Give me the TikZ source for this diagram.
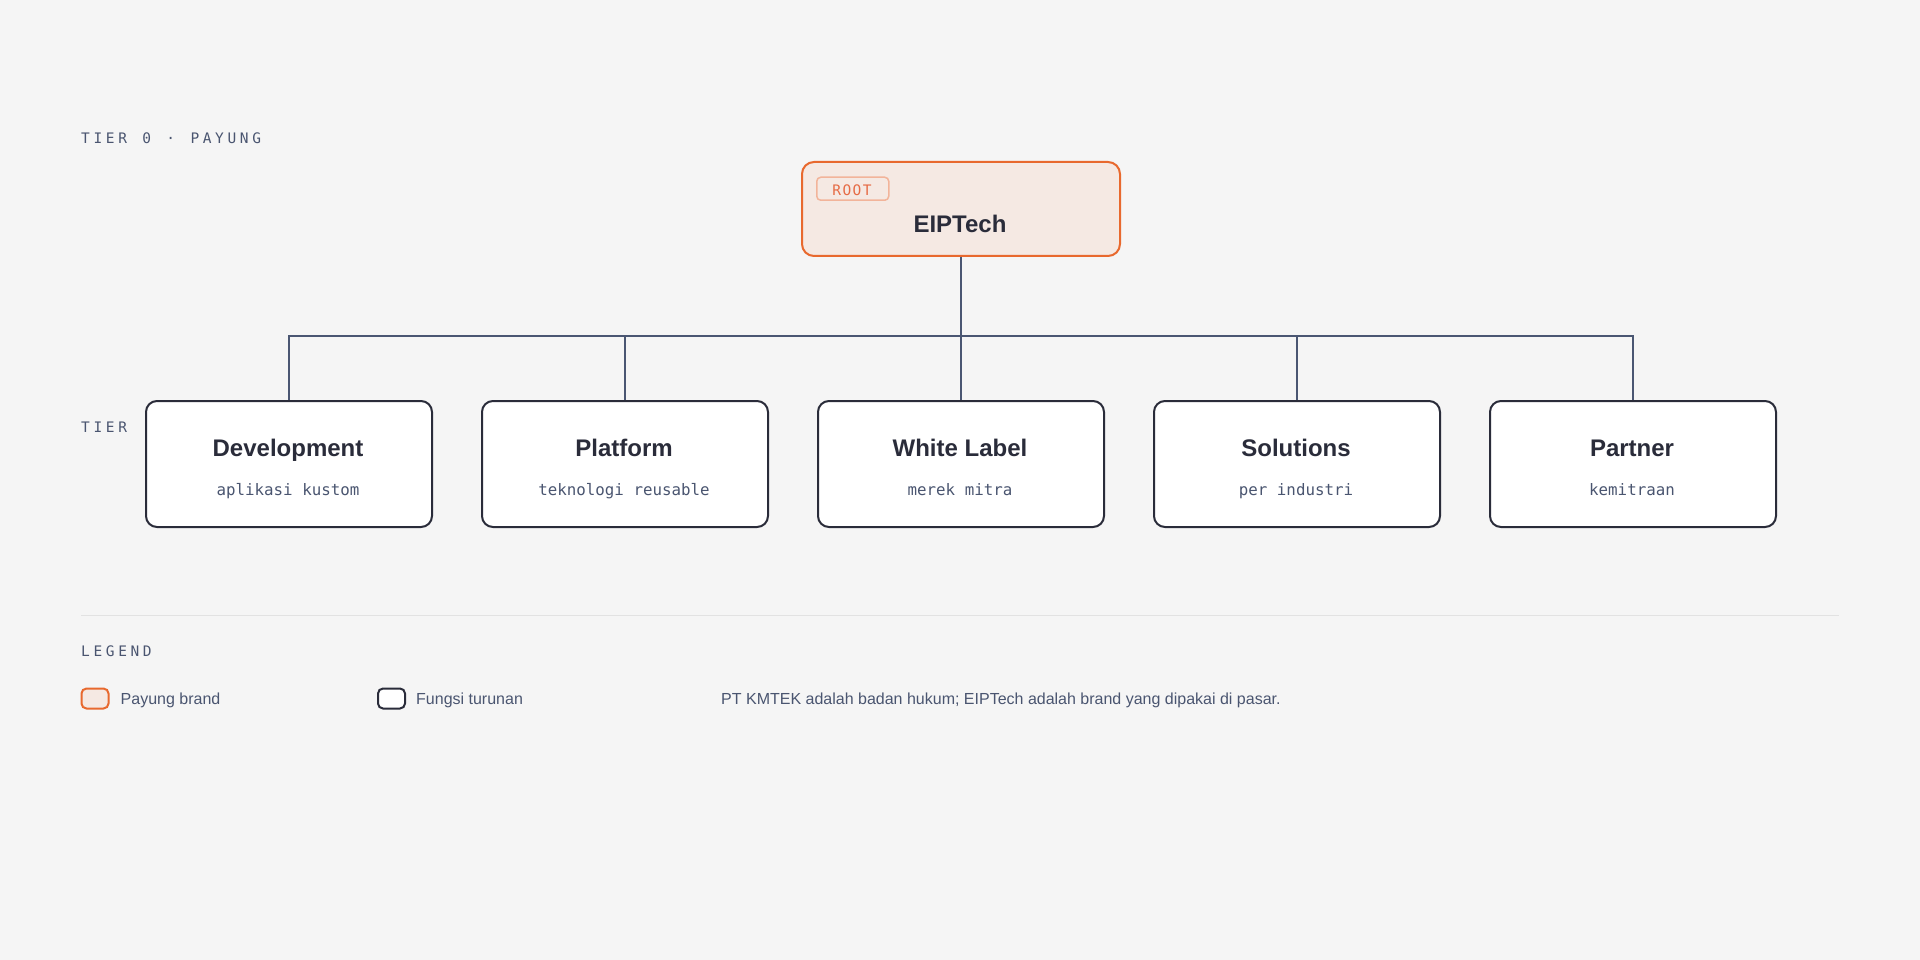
\documentclass[tikz,border=0pt]{standalone}
\usepackage{fontspec}
\setmainfont{Liberation Sans}
\newfontfamily\monof{DejaVu Sans Mono}
\newfontfamily\monosp{DejaVu Sans Mono}[LetterSpace=25]
\newfontfamily\monotag{DejaVu Sans Mono}[LetterSpace=10]
\definecolor{bgc}{HTML}{F5F5F5}
\definecolor{orng}{HTML}{E8692E}
\definecolor{orfill}{HTML}{F5E9E3}
\definecolor{tagb}{HTML}{F2B49A}
\definecolor{tagt}{HTML}{E66B45}
\definecolor{darkc}{HTML}{2A2C3A}
\definecolor{linec}{HTML}{4A5672}
\definecolor{subc}{HTML}{4A5570}
\definecolor{sepc}{HTML}{E2E2E2}
\begin{document}
\begin{tikzpicture}[x=1pt,y=-1pt,
  tierlbl/.style={anchor=base west,inner sep=0,text=subc,font=\monosp\fontsize{14.5}{16}\selectfont},
  childbox/.style={draw=darkc,line width=2pt,fill=white,rounded corners=11pt,minimum width=286pt,minimum height=126pt,inner sep=0,anchor=north west},
  ttl/.style={anchor=base,inner sep=0,text=darkc,font=\fontsize{24}{28}\selectfont\bfseries},
  sub/.style={anchor=base,inner sep=0,text=subc,font=\monof\fontsize{15.8}{18}\selectfont},
  conn/.style={draw=linec,line width=1.6pt},
  legtxt/.style={anchor=base west,inner sep=0,text=subc,font=\fontsize{16}{19}\selectfont}]
\fill[bgc] (0,0) rectangle (1920,960);
\useasboundingbox (0,0) rectangle (1920,960);

% tier labels
\node[tierlbl] (t0) at (81,143.5) {TIER\hspace{3pt} 0\hspace{3pt} ·\hspace{3pt} PAYUNG};
\node[tierlbl] (t1) at (81,432) {TIER};

% root
\node[draw=orng,line width=2pt,fill=orfill,rounded corners=12pt,minimum width=318pt,minimum height=94pt,inner sep=0,anchor=north west] (root) at (801,161) {};
\node[draw=tagb,line width=1.5pt,rounded corners=4pt,minimum width=72pt,minimum height=23pt,inner sep=0,anchor=north west] (tag) at (816,176.5) {};
\node[anchor=base,inner sep=0,text=tagt,font=\monotag\fontsize{14.5}{16}\selectfont] (tagtxt) at (852,195.7) {ROOT};
\node[ttl] (roottxt) at (960,232.3) {EIPTech};

% children
\node[childbox] (c1) at (145,400) {};
\node[childbox] (c2) at (481,400) {};
\node[childbox] (c3) at (817,400) {};
\node[childbox] (c4) at (1153,400) {};
\node[childbox] (c5) at (1489,400) {};

\node[ttl] (c1t) at (288,456) {Development};
\node[ttl] (c2t) at (624,456) {Platform};
\node[ttl] (c3t) at (960,456) {White Label};
\node[ttl] (c4t) at (1296,456) {Solutions};
\node[ttl] (c5t) at (1632,456) {Partner};

\node[sub] (c1s) at (288,495.7) {aplikasi kustom};
\node[sub] (c2s) at (624,495.7) {teknologi reusable};
\node[sub] (c3s) at (960,495.7) {merek mitra};
\node[sub] (c4s) at (1296,495.7) {per industri};
\node[sub] (c5s) at (1632,495.7) {kemitraan};

% connectors
\coordinate (bus) at (960,336);
\draw[conn] (root.south) -- (c3.north);
\draw[conn] (c1.north) |- (bus) -| (c5.north);
\draw[conn] (c2.north) -- (c2.north |- bus);
\draw[conn] (c4.north) -- (c4.north |- bus);

% separator
\coordinate (sepL) at (81,615.5);
\coordinate (sepR) at (1839,615.5);
\draw[sepc,line width=1.5pt] (sepL) -- (sepR);

% legend
\node[tierlbl] (leg) at (81,656) {LEGEND};
\node[draw=orng,line width=2pt,fill=orfill,rounded corners=5pt,minimum width=27pt,minimum height=20pt,inner sep=0,anchor=north west] (sw1) at (80.5,687.5) {};
\node[legtxt] (sw1t) at (120.5,704.5) {Payung brand};
\node[draw=darkc,line width=2pt,fill=white,rounded corners=5pt,minimum width=27pt,minimum height=20pt,inner sep=0,anchor=north west] (sw2) at (377,687.5) {};
\node[legtxt] (sw2t) at (416,704.5) {Fungsi turunan};
\node[legtxt] (note) at (721,704.5) {PT KMTEK adalah badan hukum; EIPTech adalah brand yang dipakai di pasar.};
\end{tikzpicture}
\end{document}
